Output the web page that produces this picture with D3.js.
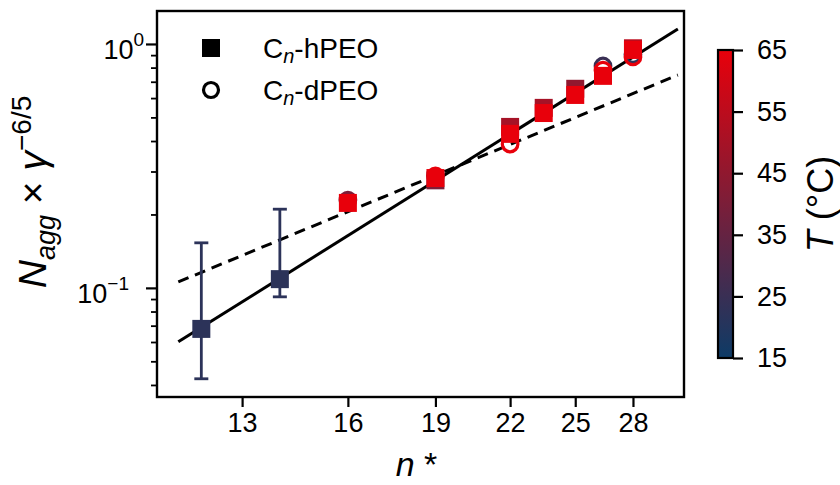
<!DOCTYPE html>
<html><head><meta charset="utf-8">
<script src="https://cdn.jsdelivr.net/npm/d3@7"></script>
<style>
body{margin:0;background:#fff;}
text{font-family:"Liberation Sans",Arial,sans-serif;fill:#000;}
</style></head>
<body><svg id="chart" width="840" height="485"></svg>
<script>
// ---- data ----
const hN    = [12, 14, 16, 19, 19, 22, 22, 23.5, 23.5, 25, 25, 26.4, 28, 28];
const hVal  = [0.0679, 0.1086, 0.223, 0.276, 0.282, 0.457, 0.428, 0.547, 0.521, 0.655, 0.618, 0.740, 0.96, 0.945];
const hT    = [22, 22, 65, 40, 65, 50, 65, 50, 65, 45, 65, 65, 55, 65];
const errIdx = [0, 1];
const errLow  = [0.0424, 0.0919];
const errHigh = [0.153, 0.2102];
const dN    = [16, 19, 22, 26.4, 26.4, 28, 28];
const dVal  = [0.229, 0.288, 0.389, 0.812, 0.781, 0.905, 0.885];
const dT    = [40, 65, 65, 25, 65, 22, 65];
const fitN      = [11.47, 30.58];
const solidFit  = [0.0601, 1.152];
const dashedFit = [0.1058, 0.746];
const xTicks = [13, 16, 19, 22, 25, 28];
const yMajor = [1, 0.1];
const yMajorExp = ["0", "\u22121"];
const yMinor = [0.04,0.05,0.06,0.07,0.08,0.09,0.2,0.3,0.4,0.5,0.6,0.7,0.8,0.9];
const cbTicks = [15, 25, 35, 45, 55, 65];
const tDomain = [15, 65];

const svg = d3.select("#chart");
const L=157, R=684, T=11, B=397;
const x = d3.scaleLog().domain([11.0, 30.95]).range([L, R]);
const y = d3.scaleLog().domain([0.0357, 1.365]).range([B, T]);
const color = d3.scaleLinear().domain(tDomain).range(["#0d3b66", "#e8000b"]).interpolate(d3.interpolateRgb);

// fits
const line = d3.line().x(d=>x(d[0])).y(d=>y(d[1]));
svg.append("path").attr("d", line(fitN.map((n,i)=>[n, solidFit[i]])))
  .attr("stroke","#000").attr("stroke-width",3).attr("fill","none");
svg.append("path").attr("d", line(fitN.map((n,i)=>[n, dashedFit[i]])))
  .attr("stroke","#000").attr("stroke-width",3).attr("fill","none").attr("stroke-dasharray","11,7");

// error bars
const eg = svg.append("g");
errIdx.forEach((k,i)=>{
  const cx = x(hN[k]), c = color(hT[k]);
  eg.append("line").attr("x1",cx).attr("x2",cx).attr("y1",y(errLow[i])).attr("y2",y(errHigh[i])).attr("stroke",c).attr("stroke-width",2.8);
  [errLow[i], errHigh[i]].forEach(v=>{
    eg.append("line").attr("x1",cx-7).attr("x2",cx+7).attr("y1",y(v)).attr("y2",y(v)).attr("stroke",c).attr("stroke-width",2.8);
  });
});

// circles (dPEO), ascending T
const dIdx = d3.range(dN.length).sort((a,b)=>dT[a]-dT[b]);
svg.append("g").selectAll("circle").data(dIdx).join("circle")
  .attr("cx",i=>x(dN[i])).attr("cy",i=>y(dVal[i])).attr("r",7.8)
  .attr("fill","none").attr("stroke",i=>color(dT[i])).attr("stroke-width",3.2);

// squares (hPEO), ascending T
const hIdx = d3.range(hN.length).sort((a,b)=>hT[a]-hT[b]);
const s = 18;
svg.append("g").selectAll("rect").data(hIdx).join("rect")
  .attr("x",i=>x(hN[i])-s/2).attr("y",i=>y(hVal[i])-s/2).attr("width",s).attr("height",s)
  .attr("fill",i=>color(hT[i]));

// axes
const xAxis = d3.axisBottom(x).tickValues(xTicks).tickFormat(d3.format("d")).tickSize(10).tickPadding(6);
const gx = svg.append("g").attr("transform",`translate(0,${B})`).call(xAxis);
gx.select(".domain").remove();
gx.selectAll(".tick line").attr("stroke-width",2.2);
gx.selectAll(".tick text").attr("font-size",27).attr("font-family","Liberation Sans, Arial, sans-serif");

const yAxisMinor = d3.axisLeft(y).tickValues(yMinor).tickFormat("").tickSize(6);
const gym = svg.append("g").attr("transform",`translate(${L},0)`).call(yAxisMinor);
gym.select(".domain").remove();
gym.selectAll(".tick line").attr("stroke-width",1.8);

const yAxisMajor = d3.axisLeft(y).tickValues(yMajor).tickFormat("").tickSize(11);
const gy = svg.append("g").attr("transform",`translate(${L},0)`).call(yAxisMajor);
gy.select(".domain").remove();
gy.selectAll(".tick line").attr("stroke-width",2.2);
const yLabelRight = [144, 129];
yMajor.forEach((v,i)=>{
  const t = svg.append("text").attr("x",yLabelRight[i]).attr("y",y(v)+15).attr("text-anchor","end").attr("font-size",27);
  t.append("tspan").text("10");
  t.append("tspan").attr("dy",-13).attr("font-size",19).text(yMajorExp[i]);
});

// frame
svg.append("rect").attr("x",L).attr("y",T).attr("width",R-L).attr("height",B-T)
  .attr("fill","none").attr("stroke","#000").attr("stroke-width",2.4);

// legend
svg.append("rect").attr("x",202).attr("y",39).attr("width",18).attr("height",18).attr("fill","#000");
svg.append("circle").attr("cx",211).attr("cy",90).attr("r",7.5).attr("fill","none").attr("stroke","#000").attr("stroke-width",3.2);
const legTexts = [["-hPEO", 58], ["-dPEO", 100]];
legTexts.forEach(([suf, by])=>{
  const t = svg.append("text").attr("x",263).attr("y",by).attr("font-size",28);
  t.append("tspan").text("C");
  t.append("tspan").attr("font-style","italic").attr("font-size",20).attr("dy",5).text("n");
  t.append("tspan").attr("dy",-5).text(suf);
});

// axis labels
const xl = svg.append("text").attr("x",(L+R)/2 - 4).attr("y",476).attr("text-anchor","middle").attr("font-size",34);
xl.append("tspan").attr("font-style","italic").text("n");
xl.append("tspan").text(" *");

const yl = svg.append("text").attr("transform",`translate(46,192) rotate(-90)`).attr("text-anchor","middle").attr("font-size",39);
yl.append("tspan").attr("font-style","italic").text("N");
yl.append("tspan").attr("font-style","italic").attr("font-size",27).attr("dy",9).text("agg");
yl.append("tspan").attr("dy",-9).text(" \u00d7 ");
yl.append("tspan").attr("font-style","italic").text("\u03b3");
yl.append("tspan").attr("font-size",28).attr("dy",-15).text("\u22126/5");

// colorbar
const cbX=718, cbW=15, cbT=50, cbB=358;
const defs = svg.append("defs");
const grad = defs.append("linearGradient").attr("id","cbgrad").attr("x1",0).attr("x2",0).attr("y1",1).attr("y2",0);
d3.range(0,1.0001,0.1).forEach(t=>{
  grad.append("stop").attr("offset",t).attr("stop-color",color(tDomain[0]+t*(tDomain[1]-tDomain[0])));
});
svg.append("rect").attr("x",cbX).attr("y",cbT).attr("width",cbW).attr("height",cbB-cbT).attr("fill","url(#cbgrad)")
  .attr("stroke","#000").attr("stroke-width",2.2);
const cy = d3.scaleLinear().domain(tDomain).range([cbB, cbT]);
const cbAxis = d3.axisRight(cy).tickValues(cbTicks).tickSize(10).tickPadding(14);
const gc = svg.append("g").attr("transform",`translate(${cbX+cbW},0)`).call(cbAxis);
gc.select(".domain").remove();
gc.selectAll(".tick line").attr("stroke-width",2.2);
gc.selectAll(".tick text").attr("font-size",27).attr("font-family","Liberation Sans, Arial, sans-serif");

const cl = svg.append("text").attr("transform",`translate(833,${(cbT+cbB)/2}) rotate(-90)`).attr("text-anchor","middle").attr("font-size",36);
cl.append("tspan").attr("font-style","italic").text("T");
cl.append("tspan").text(" (\u00b0C)");
</script></body></html>
